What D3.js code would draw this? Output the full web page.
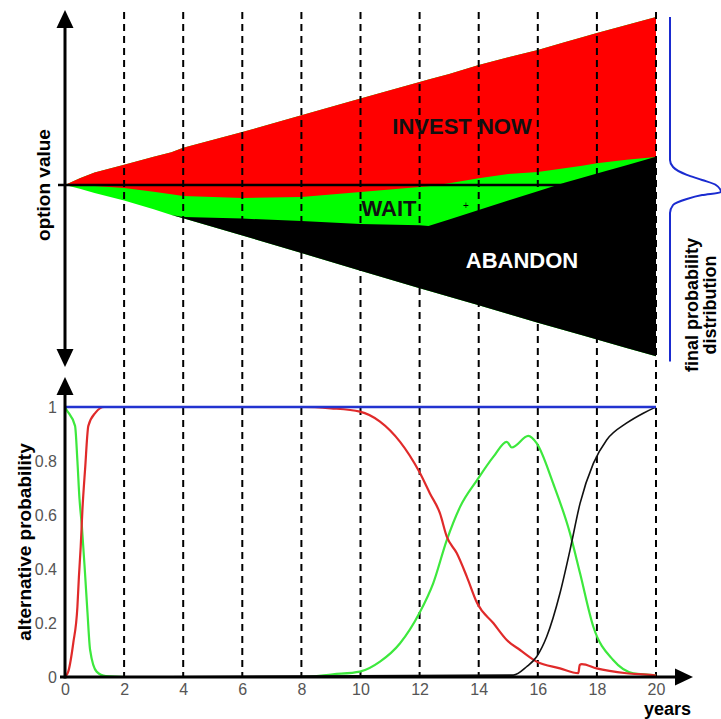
<!DOCTYPE html>
<meta charset="utf-8">
<head>
<script src="https://d3js.org/d3.v7.min.js"></script>
<style>
  body { margin: 0; background: #fff; }
  text { font-family: "Liberation Sans", Arial, sans-serif; }
</style>
</head>
<body>
<div id="chart"></div>
<script>

// upper panel: boundaries of the decision regions (option value units)
var topYears      = [0, 0.5, 1, 2, 3, 3.6, 4, 6, 8, 10, 12, 12.3, 13, 14, 15, 16, 16.9, 17.5, 18, 19, 20];
var investUpper   = [0, 0.04, 0.075, 0.12, 0.168, 0.195, 0.222, 0.315, 0.415, 0.515, 0.613, 0.628, 0.66, 0.714, 0.76, 0.804, 0.85, 0.88, 0.905, 0.952, 1.0];
var investLower   = [0, -0.002, -0.006, -0.018, -0.04, -0.055, -0.065, -0.077, -0.071, -0.042, -0.012, -0.007, 0.01, 0.04, 0.065, 0.077, 0.1, 0.115, 0.13, 0.15, 0.167];
var abandonUpper  = [null, null, null, null, null, -0.178, -0.19, -0.2, -0.215, -0.232, -0.24, -0.244, -0.205, -0.149, -0.093, -0.037, 0.013, 0.043, 0.068, 0.118, 0.168];
var envelopeLower = [0, -0.022, -0.048, -0.092, -0.145, -0.178, -0.198, -0.3, -0.405, -0.51, -0.615, -0.63, -0.665, -0.716, -0.768, -0.82, -0.865, -0.895, -0.92, -0.97, -1.02];

// final probability distribution (right edge)
var distValue   = [1.0, 0.149, 0.107, 0.06, 0.03, 0, -0.042, -0.06, -0.083, -0.119, -0.167, -1.05];
var distDensity = [0, 0, 0.06, 0.33, 0.63, 0.9, 1.0, 0.63, 0.33, 0.06, 0, 0];

// lower panel: probability of each alternative
var investYears = [0, 0.11, 0.28, 0.42, 0.47, 0.53, 0.59, 0.68, 0.79, 1.04, 1.32, 8, 9, 9.98, 10.66, 11.34, 11.99, 12.35, 12.69, 12.92, 13.26, 13.6, 13.95, 14.5, 14.95, 15.4, 15.96, 16.75, 17.37, 17.42, 17.49, 17.99, 19.0, 19.9, 20];
var investProb  = [0, 0.02, 0.126, 0.26, 0.37, 0.48, 0.62, 0.77, 0.93, 0.98, 1.0, 1.0, 0.995, 0.983, 0.946, 0.871, 0.76, 0.68, 0.606, 0.52, 0.458, 0.371, 0.273, 0.199, 0.137, 0.1, 0.057, 0.032, 0.014, 0.045, 0.048, 0.032, 0.014, 0.007, 0.005];

var waitYears = [0, 0.05, 0.34, 0.42, 0.49, 0.57, 0.68, 0.76, 0.85, 1.07, 1.38, 2, 8, 9.07, 9.98, 10.66, 11.34, 11.99, 12.46, 12.92, 13.37, 13.95, 14.5, 14.95, 15.12, 15.68, 15.96, 16.52, 17.09, 17.43, 17.88, 18.55, 19.23, 19.9, 20];
var waitProb  = [1, 0.99, 0.93, 0.8, 0.66, 0.56, 0.38, 0.24, 0.1, 0.02, 0.003, 0, 0, 0.01, 0.02, 0.057, 0.125, 0.236, 0.347, 0.507, 0.63, 0.73, 0.816, 0.871, 0.85, 0.893, 0.866, 0.717, 0.532, 0.384, 0.186, 0.063, 0.014, 0.007, 0.005];

var abandonYears = [0, 15.17, 15.62, 15.96, 16.3, 16.75, 17.09, 17.43, 17.88, 18.33, 19.0, 19.57, 19.9, 20];
var abandonProb  = [0, 0.007, 0.038, 0.075, 0.149, 0.31, 0.47, 0.643, 0.791, 0.878, 0.94, 0.977, 0.995, 1.0];

var totalYears = [0, 20];
var totalProb  = [1, 1];

var gridYears = [2, 4, 6, 8, 10, 12, 14, 16, 18, 20];
var xTicks = [0, 2, 4, 6, 8, 10, 12, 14, 16, 18, 20];
var yTicks = [0, 0.2, 0.4, 0.6, 0.8, 1];

var svg = d3.select("#chart").append("svg")
    .attr("width", 721)
    .attr("height", 719);

var x = d3.scaleLinear().domain([0, 20]).range([65, 656]);
var yVal = d3.scaleLinear().domain([-1, 1]).range([353, 17]);
var yProb = d3.scaleLinear().domain([0, 1]).range([677, 407]);
var xDist = d3.scaleLinear().domain([0, 1]).range([670, 721]);

// ---- upper panel regions
var rows = topYears.map(function (t, i) {
    return {t: t, up: investUpper[i], mid: investLower[i], blk: abandonUpper[i], low: envelopeLower[i]};
});

svg.append("path")
    .attr("d", d3.area().x(d => x(d.t)).y0(d => yVal(d.low)).y1(d => yVal(d.up))(rows))
    .attr("fill", "#00ff00");

svg.append("path")
    .attr("d", d3.area().x(d => x(d.t)).y0(d => yVal(d.mid)).y1(d => yVal(d.up))(rows))
    .attr("fill", "#ff0000");

svg.append("path")
    .attr("d", d3.area().defined(d => d.blk != null)
        .x(d => x(d.t)).y0(d => yVal(d.low)).y1(d => yVal(d.blk))(rows))
    .attr("fill", "#000");

// small marker inside WAIT
svg.append("text")
    .attr("x", 466).attr("y", 209)
    .attr("text-anchor", "middle")
    .style("font-size", "10px")
    .text("+");

// dashed year lines through both panels
svg.selectAll(".grid")
    .data(gridYears)
    .enter().append("line")
    .attr("x1", d => x(d)).attr("x2", d => x(d))
    .attr("y1", 12).attr("y2", yProb(0))
    .attr("stroke", "#000")
    .attr("stroke-width", 2)
    .attr("stroke-dasharray", "7,5");

// zero line of the option value
svg.append("line")
    .attr("x1", 58).attr("x2", x(20))
    .attr("y1", yVal(0)).attr("y2", yVal(0))
    .attr("stroke", "#000").attr("stroke-width", 2.5);

function head(tx, ty, dir) {
    // dir: "up", "down", "right"
    var L = 18, W = 8.5;
    if (dir === "up") return "M" + tx + "," + ty + "L" + (tx - W) + "," + (ty + L) + "L" + (tx + W) + "," + (ty + L) + "Z";
    if (dir === "down") return "M" + tx + "," + ty + "L" + (tx - W) + "," + (ty - L) + "L" + (tx + W) + "," + (ty - L) + "Z";
    return "M" + tx + "," + ty + "L" + (tx - L) + "," + (ty - W) + "L" + (tx - L) + "," + (ty + W) + "Z";
}

// option value double arrow
svg.append("line")
    .attr("x1", x(0)).attr("x2", x(0)).attr("y1", 20).attr("y2", 358)
    .attr("stroke", "#000").attr("stroke-width", 3);
svg.append("path").attr("d", head(x(0), 10, "up"));
svg.append("path").attr("d", head(x(0), 367, "down"));

// region labels
svg.append("text").attr("x", 462).attr("y", 134).attr("text-anchor", "middle")
    .style("font-size", "22px").style("font-weight", "bold").attr("fill", "#111").text("INVEST NOW");
svg.append("text").attr("x", 389).attr("y", 216).attr("text-anchor", "middle")
    .style("font-size", "22px").style("font-weight", "bold").attr("fill", "#111").text("WAIT");
svg.append("text").attr("x", 522).attr("y", 268).attr("text-anchor", "middle")
    .style("font-size", "22px").style("font-weight", "bold").attr("fill", "#fff").text("ABANDON");

svg.append("text")
    .attr("transform", "translate(50," + yVal(0) + ") rotate(-90)")
    .attr("text-anchor", "middle")
    .style("font-size", "19px").style("font-weight", "bold")
    .text("option value");

// final probability distribution
var dist = distValue.map((v, i) => ({v: v, p: distDensity[i]}));
svg.append("path")
    .attr("d", d3.line().curve(d3.curveMonotoneY).x(d => xDist(d.p)).y(d => yVal(d.v))(dist))
    .attr("fill", "none")
    .attr("stroke", "#1a2bd0")
    .attr("stroke-width", 2);

svg.append("text")
    .attr("transform", "translate(698,305) rotate(-90)")
    .attr("text-anchor", "middle")
    .style("font-size", "18px").style("font-weight", "bold")
    .text("final probability");
svg.append("text")
    .attr("transform", "translate(716,305) rotate(-90)")
    .attr("text-anchor", "middle")
    .style("font-size", "18px").style("font-weight", "bold")
    .text("distribution");

// ---- lower panel
var line = d3.line().curve(d3.curveMonotoneX).x(d => x(d[0])).y(d => yProb(d[1]));

function drawSeries(years, probs, color, width) {
    svg.append("path")
        .attr("d", line(years.map((t, i) => [t, probs[i]])))
        .attr("fill", "none")
        .attr("stroke", color)
        .attr("stroke-width", width);
}

drawSeries(waitYears, waitProb, "#3de83d", 2.2);
drawSeries(investYears, investProb, "#e02a2a", 2.2);
drawSeries(abandonYears, abandonProb, "#111", 1.6);
drawSeries(totalYears, totalProb, "#2233d0", 2.5);

var xAxis = svg.append("g")
    .attr("transform", "translate(0," + yProb(0) + ")")
    .call(d3.axisBottom(x).tickValues(xTicks).tickSize(0).tickPadding(7).tickFormat(d => String(d)));
xAxis.select(".domain").remove();
xAxis.selectAll("text").style("font-size", "16px").attr("fill", "#555");

var yAxis = svg.append("g")
    .attr("transform", "translate(" + x(0) + ",0)")
    .call(d3.axisLeft(yProb).tickValues(yTicks).tickSize(0).tickPadding(8).tickFormat(d => String(d)));
yAxis.select(".domain").remove();
yAxis.selectAll("text").style("font-size", "16px").attr("fill", "#555");

svg.append("line")
    .attr("x1", 60).attr("x2", 680).attr("y1", yProb(0)).attr("y2", yProb(0))
    .attr("stroke", "#000").attr("stroke-width", 3);
svg.append("path").attr("d", head(693, yProb(0), "right"));

svg.append("line")
    .attr("x1", x(0)).attr("x2", x(0)).attr("y1", yProb(0) + 1.5).attr("y2", 390)
    .attr("stroke", "#000").attr("stroke-width", 3);
svg.append("path").attr("d", head(x(0), 377, "up"));

svg.append("text")
    .attr("transform", "translate(31," + yProb(0.5) + ") rotate(-90)")
    .attr("text-anchor", "middle")
    .style("font-size", "19px").style("font-weight", "bold")
    .text("alternative probability");

svg.append("text")
    .attr("x", 691).attr("y", 715)
    .attr("text-anchor", "end")
    .style("font-size", "18px").style("font-weight", "bold")
    .text("years");

</script>
</body>
</html>
